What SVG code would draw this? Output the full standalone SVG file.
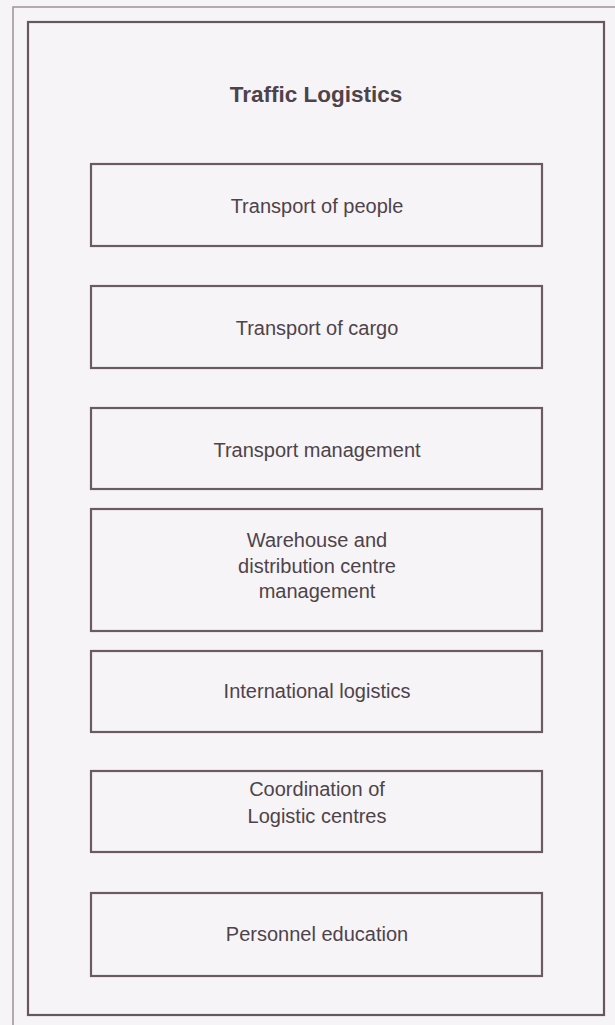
<svg xmlns="http://www.w3.org/2000/svg" width="615" height="1025" viewBox="0 0 615 1025">
  <style>
    .page { fill: #f6f4f7; }
    .rule { fill: none; stroke: #9c9199; stroke-width: 1.5; }
    .frame { fill: none; stroke: #66575f; stroke-width: 2.2; }
    .box { fill: none; stroke: #6a5b63; stroke-width: 2.2; }
    .label { font-family: "Liberation Sans", Arial, sans-serif; font-size: 20px; fill: #4e434a; text-anchor: middle; }
    .title { font-family: "Liberation Sans", Arial, sans-serif; font-size: 22.5px; font-weight: bold; fill: #4e434a; text-anchor: middle; }
  </style>

  <!-- paper and page rules -->
  <rect class="page" x="0" y="0" width="615" height="1025"/>
  <path class="rule" d="M13,1025 V7 H615"/>

  <!-- enclosing frame with heading -->
  <g id="traffic-logistics">
    <rect class="frame" x="28" y="22" width="576" height="993"/>
    <text class="title" x="316" y="102">Traffic Logistics</text>
  </g>

  <g id="transport-of-people">
    <rect class="box" x="91" y="164" width="451" height="82"/>
    <text class="label" x="317" y="213">Transport of people</text>
  </g>

  <g id="transport-of-cargo">
    <rect class="box" x="91" y="286" width="451" height="82"/>
    <text class="label" x="317" y="335">Transport of cargo</text>
  </g>

  <g id="transport-management">
    <rect class="box" x="91" y="408" width="451" height="81"/>
    <text class="label" x="317" y="457">Transport management</text>
  </g>

  <g id="warehouse-management">
    <rect class="box" x="91" y="509" width="451" height="122"/>
    <text class="label" x="317" y="547">Warehouse and</text>
    <text class="label" x="317" y="573">distribution centre</text>
    <text class="label" x="317" y="598">management</text>
  </g>

  <g id="international-logistics">
    <rect class="box" x="91" y="651" width="451" height="81"/>
    <text class="label" x="317" y="698">International logistics</text>
  </g>

  <g id="logistic-centres">
    <rect class="box" x="91" y="771" width="451" height="81"/>
    <text class="label" x="317" y="796">Coordination of</text>
    <text class="label" x="317" y="823">Logistic centres</text>
  </g>

  <g id="personnel-education">
    <rect class="box" x="91" y="893" width="451" height="83"/>
    <text class="label" x="317" y="941">Personnel education</text>
  </g>

  <!-- the chart has no connecting lines -->
  <g id="connectors"/>
</svg>
